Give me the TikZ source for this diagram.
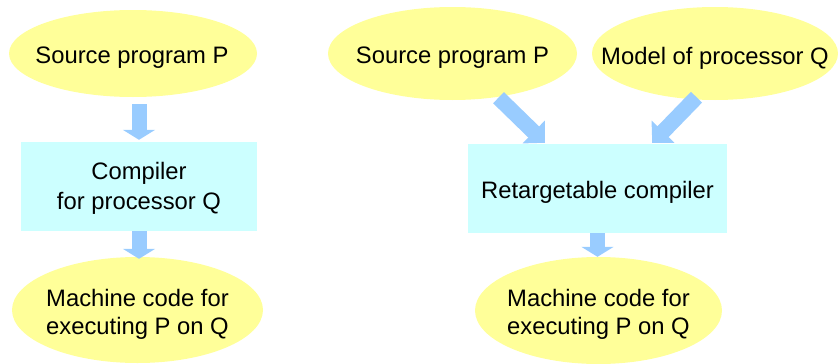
\documentclass[tikz,border=0pt]{standalone}
\usepackage{fontspec}
\setmainfont{Liberation Sans}
\usetikzlibrary{shapes.geometric,arrows.meta,calc}
\definecolor{ellfill}{HTML}{FFFF99}
\definecolor{boxfill}{HTML}{CCFFFF}
\definecolor{arrfill}{HTML}{99CCFF}
\begin{document}
\begin{tikzpicture}[x=1pt,y=-1pt,
  ell/.style={ellipse,fill=ellfill,inner sep=0pt},
  lbl/.style={inner sep=0pt,align=center,font=\fontsize{23.8}{28}\selectfont},
  blbl/.style={inner sep=0pt,align=center,font=\fontsize{23.8}{30}\selectfont},
  boxn/.style={rectangle,fill=boxfill,inner sep=0pt},
  vtarrow/.style={draw=arrfill,line width=15pt,-{Triangle[width=32pt,length=10pt]}},
  dgarrow/.style={draw=arrfill,line width=15.5pt,-{Triangle[width=31pt,length=15.5pt]}}]
\useasboundingbox (0,0) rectangle (838,364);
% left column
\node[ell,minimum width=248pt,minimum height=87pt] (s1) at (133,53.5) {};
\node[lbl] (s1t) at (132,58) {Source program P};
\node[boxn,minimum width=236pt,minimum height=89pt] (c1) at (139,186.5) {};
\node[blbl] (c1t) at (139,188.8) {Compiler\\for processor Q};
\node[ell,minimum width=251pt,minimum height=106pt] (m1) at (137.5,310) {};
\node[lbl] (m1t) at (137.5,314) {Machine code for\\executing P on Q};
% right column
\node[ell,minimum width=249pt,minimum height=93pt] (s2) at (452.5,53.5) {};
\node[lbl] (s2t) at (452.5,58) {Source program P};
\node[ell,minimum width=246pt,minimum height=93pt] (q2) at (715,53.5) {};
\node[lbl] (q2t) at (715,58) {Model of processor Q};
\node[boxn,minimum width=259pt,minimum height=89pt] (c2) at (597.5,188.5) {};
\node[lbl] (c2t) at (597.5,192) {Retargetable compiler};
\node[ell,minimum width=247pt,minimum height=107pt] (m2) at (598.5,310.5) {};
\node[lbl] (m2t) at (598.5,314.5) {Machine code for\\executing P on Q};
% arrows
\draw[vtarrow,shorten <=7pt,shorten >=2pt] (s1.south -| c1.north) -- (c1.north);
\draw[vtarrow,shorten >=-2pt] (c1.south) -- (c1.south |- m1.north);
\draw[vtarrow] (c2.south) -- (c2.south |- m2.north);
\coordinate (t1) at ($(s2.south)+(46,-2.5)$);
\coordinate (h1) at ($(c2.north west)+(77,-1)$);
\coordinate (t2) at ($(q2.south)+(-18.5,-3)$);
\coordinate (h2) at ($(c2.north east)+(-75,-1)$);
\draw[dgarrow] (t1) -- (h1);
\draw[dgarrow] (t2) -- (h2);
\end{tikzpicture}
\end{document}
